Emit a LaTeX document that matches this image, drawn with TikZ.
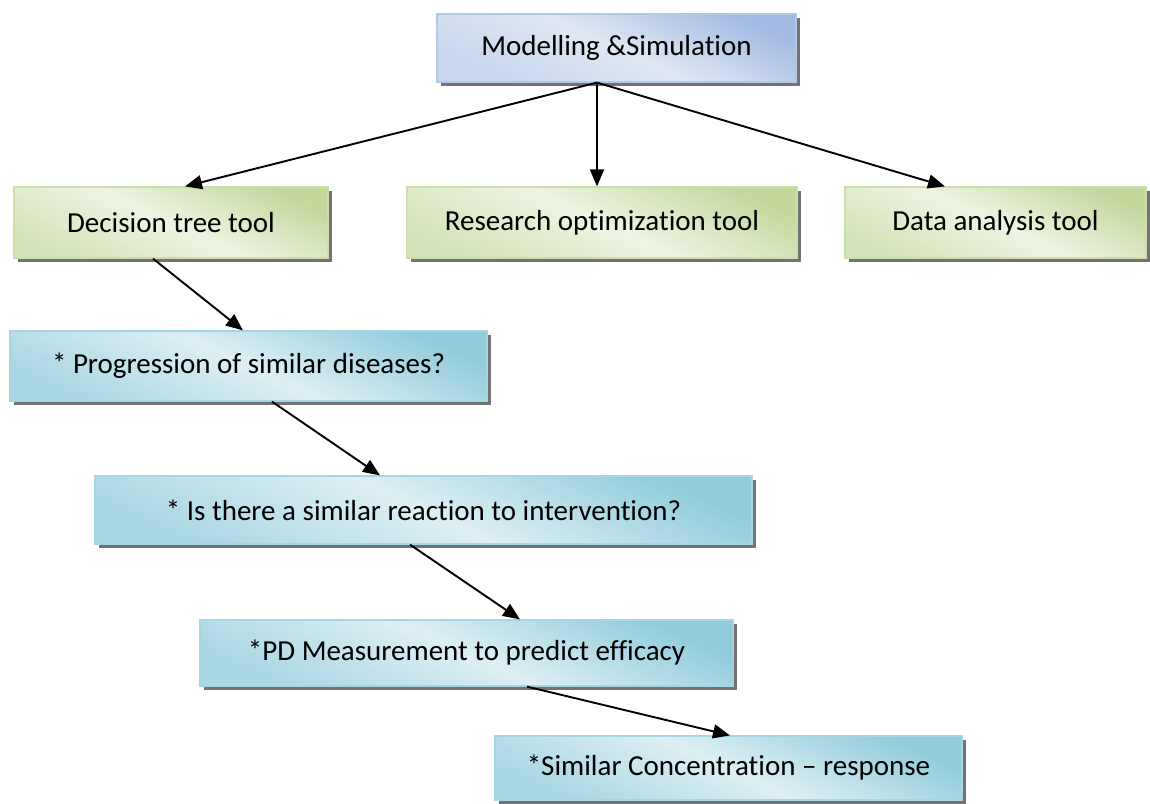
\documentclass[tikz,border=0pt]{standalone}
\usepackage{fontspec}
\setmainfont{Carlito}[Ligatures=NoCommon]
\usetikzlibrary{arrows.meta,shadows}
\definecolor{bluedark}{HTML}{A3BBE2}
\definecolor{bluelight}{HTML}{DFE7F4}
\definecolor{blueedge}{HTML}{B3C8E8}
\definecolor{greendark}{HTML}{C4D89E}
\definecolor{greenlight}{HTML}{EEF4E2}
\definecolor{greenedge}{HTML}{CCDFAA}
\definecolor{cyandark}{HTML}{92CCDC}
\definecolor{cyanlight}{HTML}{DDEFF4}
\definecolor{cyanedge}{HTML}{A6D6E3}
\tikzset{
  boxbase/.style={draw, line width=1.2pt, inner sep=0pt, font=\fontsize{29}{34}\selectfont,
    drop shadow={shadow xshift=4pt, shadow yshift=-4pt, fill=black!55, opacity=1}},
  bluebox/.style={boxbase, draw=blueedge, top color=bluedark, bottom color=bluedark!40!bluelight, middle color=bluelight, shading angle=-25},
  greenbox/.style={boxbase, draw=greenedge, top color=greendark, bottom color=greendark!60!greenlight, middle color=greenlight, shading angle=-25},
  cyanbox/.style={boxbase, draw=cyanedge, top color=cyandark, bottom color=cyandark!70!cyanlight, middle color=cyanlight, shading angle=-25},
  conn/.style={line width=1.9pt, -{Triangle[length=17pt,width=14pt]}}
}
\begin{document}
\begin{tikzpicture}[x=1pt,y=-1pt]
\useasboundingbox (0,0) rectangle (1150,803);
\node[bluebox, minimum width=359, minimum height=68] (m) at (616.5,48) {Modelling \&Simulation};
\node[greenbox, minimum width=314, minimum height=71] (d) at (171,222.5) {Decision tree tool};
\node[greenbox, minimum width=390, minimum height=71] (r) at (602,222.5) {Research optimization tool};
\node[greenbox, minimum width=301, minimum height=71] (da) at (995.5,222.5) {Data analysis tool};
\node[cyanbox, minimum width=477, minimum height=70] (p) at (248.5,366) {* Progression of similar diseases?};
\node[cyanbox, minimum width=657, minimum height=68] (i) at (423.5,510) {* Is there a similar reaction to intervention?};
\node[cyanbox, minimum width=533, minimum height=66] (pd) at (466.5,653) {*PD Measurement to predict efficacy};
\node[cyanbox, minimum width=467, minimum height=64] (s) at (728.5,768) {*Similar Concentration – response};
\draw[conn] ([xshift=-19.5]m.south) -- ([xshift=14]d.north);
\draw[conn] ([xshift=-19.5]m.south) -- ([xshift=-5]r.north);
\draw[conn] ([xshift=-19.5]m.south) -- ([xshift=-50.5]da.north);
\draw[conn] ([xshift=-18]d.south) -- ([xshift=-5.5]p.north);
\draw[conn] ([xshift=23.5]p.south) -- ([xshift=-43.5]i.north);
\draw[conn] ([xshift=-13.5]i.south) -- ([xshift=53.5]pd.north);
\draw[conn] ([xshift=60.5]pd.south) -- ([xshift=1.5]s.north);
\end{tikzpicture}
\end{document}
